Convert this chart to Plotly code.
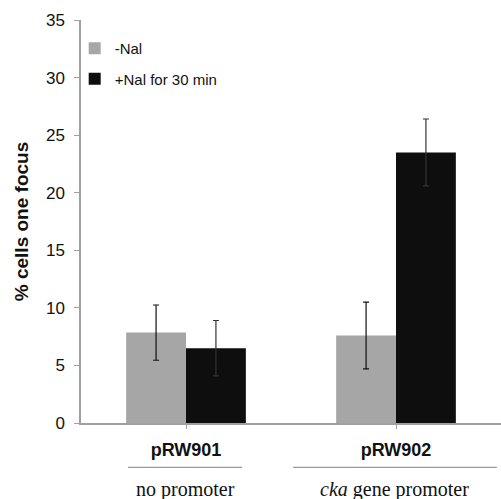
import plotly.graph_objects as go

categories = ["pRW901", "pRW902"]
subtitles = ["no promoter", "<i>cka</i> gene promoter"]
series_names = ["-Nal", "+Nal for 30 min"]
no_nal = [7.85, 7.6]
no_nal_err = [2.4, 2.9]
plus_nal = [6.5, 23.5]
plus_nal_err = [2.4, 2.9]
y_ticks = [0, 5, 10, 15, 20, 25, 30, 35]

GRAY = "#a6a6a6"
BLACK = "#0e0e0e"
AXIS = "#a0a0a0"
SANS = "Liberation Sans, Arial, sans-serif"
SERIF = "Liberation Serif, Times New Roman, serif"

x_idx = list(range(len(categories)))

fig = go.Figure()
fig.add_trace(go.Bar(
    x=x_idx, y=no_nal, name=series_names[0], legendgroup="a",
    marker=dict(color=GRAY, line=dict(width=0)),
    error_y=dict(type="data", array=no_nal_err, color="#111111", thickness=1.2, width=3),
))
fig.add_trace(go.Bar(
    x=x_idx, y=plus_nal, name=series_names[1], legendgroup="b",
    marker=dict(color=BLACK, line=dict(width=0)),
    error_y=dict(type="data", array=plus_nal_err, color="#333333", thickness=1.2, width=3),
))

# Subgroup underline and description below each category
underline_spans = [(-0.276, 0.267), (0.51, 1.48)]
for (x0, x1), sub in zip(underline_spans, subtitles):
    fig.add_shape(type="line", xref="x", yref="paper", x0=x0, x1=x1, y0=-0.11, y1=-0.11,
                  line=dict(color="#999999", width=1.3))
    fig.add_annotation(x=(x0 + x1) / 2, y=-0.164, xref="x", yref="paper",
                       text=sub, showarrow=False, yanchor="middle",
                       font=dict(family=SERIF, size=20, color="#111111"))

fig.update_layout(
    width=501, height=499,
    margin=dict(l=81, r=0, t=20, b=76),
    paper_bgcolor="white", plot_bgcolor="white",
    barmode="group", bargap=0.43, bargroupgap=0,
    showlegend=True,
    legend=dict(x=-0.015, y=0.97, xanchor="left", yanchor="top",
                font=dict(family=SANS, size=15, color="#111111"),
                itemwidth=30, tracegroupgap=8, bgcolor="rgba(0,0,0,0)"),
    font=dict(family=SANS, color="#111111"),
    xaxis=dict(
        range=[-0.5, 1.5], tickmode="array", tickvals=x_idx,
        ticktext=["<b>%s</b>" % c for c in categories],
        tickson="boundaries", ticks="outside", ticklen=4, tickcolor=AXIS,
        showline=True, linecolor=AXIS, linewidth=1.5, showgrid=False, zeroline=False,
        tickfont=dict(family=SANS, size=18, color="#111111"),
        ticklabelstandoff=6,
    ),
    yaxis=dict(
        range=[0, 35], tickmode="array", tickvals=y_ticks,
        ticks="outside", ticklen=5, tickcolor=AXIS,
        showline=True, linecolor=AXIS, linewidth=1.5, showgrid=False, zeroline=False,
        tickfont=dict(family=SANS, size=17, color="#111111"),
        ticklabelstandoff=6,
        title=dict(text="<b>% cells one focus</b>", font=dict(family=SANS, size=19, color="#111111"), standoff=12),
    ),
)

fig.write_html("out.html", config={"displayModeBar": False},
               post_script="document.body.style.margin='0px';document.body.style.overflow='hidden';")
